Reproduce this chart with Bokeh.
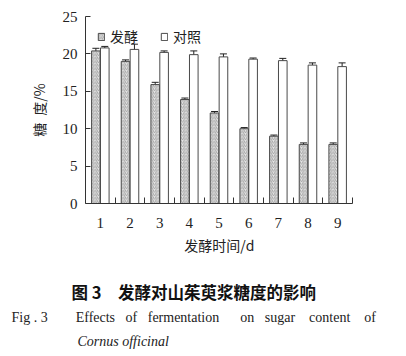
from bokeh.plotting import figure
from bokeh.models import (ColumnDataSource, Range1d, FixedTicker, Whisker, TeeHead,
                          Legend, LegendItem, Title)
from bokeh.embed import file_html
from bokeh.resources import INLINE

days = [1, 2, 3, 4, 5, 6, 7, 8, 9]
ferment = [20.4, 19.0, 15.9, 13.9, 12.1, 10.0, 9.0, 7.9, 7.9]
ferment_err = [0.35, 0.2, 0.3, 0.2, 0.2, 0.15, 0.15, 0.2, 0.2]
control = [20.8, 20.6, 20.2, 19.9, 19.6, 19.3, 19.1, 18.5, 18.3]
control_err = [0.2, 0.7, 0.2, 0.5, 0.4, 0.15, 0.3, 0.3, 0.5]
y_ticks = [0, 5, 10, 15, 20, 25]

NB = "\u00a0"
caption_cn = "图 3\u3000发酵对山茱萸浆糖度的影响"
en_words = ["Fig . 3", "Effects", "of", "fermentation", "on", "sugar", "content", "of"]
en_gaps = [8, 3, 3, 6, 3, 4, 4]          # justified spacing (non-breaking spaces)
caption_it = "Cornus officinal"

caption_en = en_words[0] + "".join(NB * g + w for g, w in zip(en_gaps, en_words[1:]))

OFF = 0.15
BW = 0.29

src_f = ColumnDataSource(dict(x=[d - OFF for d in days], top=ferment,
                              lo=[v - e for v, e in zip(ferment, ferment_err)],
                              hi=[v + e for v, e in zip(ferment, ferment_err)]))
src_c = ColumnDataSource(dict(x=[d + OFF for d in days], top=control,
                              lo=[v - e for v, e in zip(control, control_err)],
                              hi=[v + e for v, e in zip(control, control_err)]))

p = figure(width=406, height=356, output_backend="svg", toolbar_location=None,
           x_range=Range1d(0.5, 9.5), y_range=Range1d(0, 25),
           min_border_left=85, min_border_right=54, min_border_top=16, min_border_bottom=153)
p.outline_line_color = None
p.grid.grid_line_color = None
p.background_fill_color = "white"
p.border_fill_color = "white"

edge = "#4a4a4a"
rf = p.vbar(x="x", top="top", width=BW, source=src_f, fill_color="#e6e6e6",
            line_color=edge, line_width=1, hatch_pattern="/", hatch_color="#858585",
            hatch_scale=3.5, hatch_weight=0.7)
rc = p.vbar(x="x", top="top", width=BW, source=src_c, fill_color="white",
            line_color=edge, line_width=1)

for s in (src_f, src_c):
    w = Whisker(base="x", lower="lo", upper="hi", source=s, line_color="#222222", line_width=1,
                upper_head=TeeHead(size=7, line_color="#222222", line_width=1),
                lower_head=TeeHead(size=7, line_color="#222222", line_width=1))
    p.add_layout(w)

serif = "Liberation Serif"
cjk = "Noto Sans CJK SC"

xa = p.xaxis[0]
xa.ticker = FixedTicker(ticks=days, minor_ticks=[d + 0.5 for d in days])
xa.major_tick_line_color = None
xa.minor_tick_in = 6
xa.minor_tick_out = 0
xa.minor_tick_line_color = "#333333"
xa.axis_line_color = "#333333"
xa.major_label_text_font = serif
xa.major_label_text_font_size = "15px"
xa.major_label_text_color = "#222222"
xa.major_label_standoff = 8
xa.axis_label = "发酵时间/d"
xa.axis_label_text_font = cjk
xa.axis_label_text_font_size = "14px"
xa.axis_label_text_font_style = "normal"
xa.axis_label_text_color = "#222222"
xa.axis_label_standoff = 4

ya = p.yaxis[0]
ya.ticker = FixedTicker(ticks=y_ticks)
ya.minor_tick_line_color = None
ya.major_tick_in = 5
ya.major_tick_out = 0
ya.major_tick_line_color = "#333333"
ya.axis_line_color = "#333333"
ya.major_label_text_font = serif
ya.major_label_text_font_size = "15px"
ya.major_label_text_color = "#222222"
ya.major_label_standoff = 8
ya.axis_label = "糖\u2002度/%"
ya.axis_label_text_font = cjk
ya.axis_label_text_font_size = "14px"
ya.axis_label_text_font_style = "normal"
ya.axis_label_text_color = "#222222"
ya.axis_label_standoff = 11

legend = Legend(items=[LegendItem(label="发酵", renderers=[rf]),
                       LegendItem(label="对照", renderers=[rc])],
                orientation="horizontal", location=(12, 157),
                border_line_color=None, background_fill_alpha=0,
                glyph_width=8, glyph_height=9, label_height=14, label_standoff=5,
                spacing=22, padding=2, margin=0,
                label_text_font=cjk, label_text_font_size="14px", label_text_color="#222222")
p.add_layout(legend)

# captions stacked below the x axis (offsets relative to frame left edge)
spacer = Title(text=NB, text_font=serif, text_font_size="14px", standoff=4,
               align="left", vertical_align="middle")
t1 = Title(text=caption_cn, text_font=cjk, text_font_size="16.5px", text_font_style="bold",
           text_color="#111111", standoff=0, align="left", offset=-14, vertical_align="middle")
t2 = Title(text=caption_en, text_font=serif, text_font_size="14px", text_font_style="normal",
           text_color="#222222", standoff=8, align="left", offset=-74, vertical_align="middle")
t3 = Title(text=caption_it, text_font=serif, text_font_size="14px", text_font_style="italic",
           text_color="#222222", standoff=6, align="left", offset=-8, vertical_align="middle")
for t in (spacer, t1, t2, t3):
    p.add_layout(t, "below")

open("out.html", "w").write(file_html(p, INLINE))
